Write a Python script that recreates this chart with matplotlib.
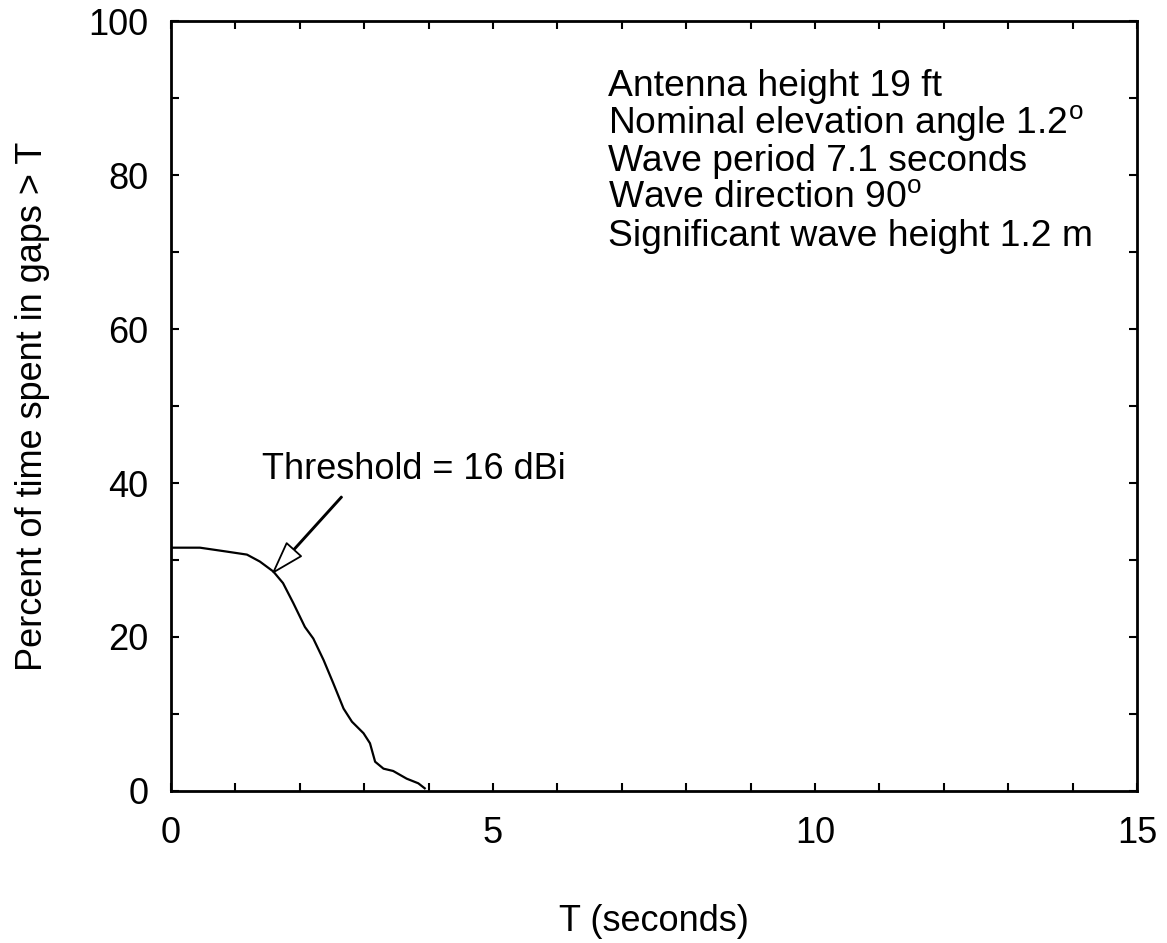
import numpy as np
import matplotlib
matplotlib.use('Agg')
import matplotlib.pyplot as plt
from matplotlib.ticker import MultipleLocator

plt.rcParams['font.family'] = ['Liberation Sans', 'DejaVu Sans']
plt.rcParams['mathtext.fontset'] = 'custom'
plt.rcParams['mathtext.rm'] = 'Liberation Sans'

# curve: T (s) vs percent of time in gaps > T
t_sec = [0.0, 0.45, 0.86, 1.18, 1.38, 1.59, 1.74, 1.90, 2.08, 2.21, 2.37,
         2.52, 2.68, 2.81, 2.99, 3.09, 3.17, 3.30, 3.45, 3.66, 3.84, 3.94]
pct = [31.6, 31.6, 31.1, 30.7, 29.8, 28.5, 27.0, 24.4, 21.3, 19.8, 17.0,
       14.0, 10.7, 9.0, 7.5, 6.2, 3.8, 2.9, 2.6, 1.6, 1.0, 0.35]

info_lines = ['Antenna height 19 ft',
              r'Nominal elevation angle 1.2$^\mathrm{o}$',
              'Wave period 7.1 seconds',
              r'Wave direction 90$^\mathrm{o}$',
              'Significant wave height 1.2 m']

fig = plt.figure(figsize=(11.67, 9.43), dpi=100)
ax = fig.add_axes([0.1465, 0.1612, 0.9743 - 0.1465, 0.9777 - 0.1612])

ax.plot(t_sec, pct, color='black', linewidth=1.6)

ax.set_xlim(0, 15)
ax.set_ylim(0, 100)
ax.xaxis.set_major_locator(MultipleLocator(5))
ax.xaxis.set_minor_locator(MultipleLocator(1))
ax.yaxis.set_major_locator(MultipleLocator(20))
ax.yaxis.set_minor_locator(MultipleLocator(10))
ax.tick_params(which='both', direction='in', top=True, right=True,
               length=6, width=1.5, labelsize=26)
ax.tick_params(axis='x', which='major', pad=18)
ax.tick_params(axis='y', which='major', pad=16)
for s in ax.spines.values():
    s.set_linewidth(2)

ax.set_xlabel('T (seconds)', fontsize=26, labelpad=38)
ax.set_ylabel('Percent of time spent in gaps > T', fontsize=26, labelpad=28)

# threshold annotation with hollow arrow
ax.annotate('', xy=(1.59, 28.4), xytext=(2.65, 38.2),
            arrowprops=dict(facecolor='white', edgecolor='black', width=0.8,
                            headwidth=14, headlength=22, linewidth=1.3))
ax.text(1.42, 41.8, 'Threshold = 16 dBi', fontsize=26, va='center')

y0 = 91.5
for i, line in enumerate(info_lines):
    ax.text(6.78, y0 - i * 4.87, line, fontsize=26.8, va='center')

fig.savefig('out.png', dpi=100)
